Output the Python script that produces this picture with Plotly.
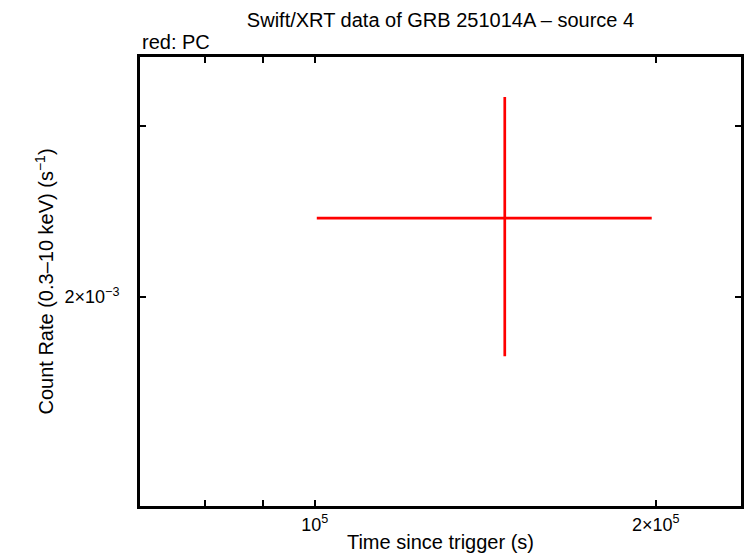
import math
import plotly.graph_objects as go

# Data
time = [147150]
time_err_minus = [46750]
time_err_plus = [51250]
rate = [2.411e-3]
rate_err_minus = [0.673e-3]
rate_err_plus = [0.803e-3]

x_tickvals = [8e4, 9e4, 1e5, 2e5]
x_ticktext = ["", "", "10<sup>5</sup>", "2×10<sup>5</sup>"]
y_tickvals = [2e-3, 3e-3]
y_ticktext = ["2×10<sup>−3</sup>", ""]

FONT = "Liberation Sans, Arial, Helvetica, sans-serif"

fig = go.Figure()
fig.add_trace(go.Scatter(
    x=time, y=rate, mode="markers",
    marker=dict(size=1, color="red"),
    error_x=dict(type="data", symmetric=False, array=time_err_plus,
                 arrayminus=time_err_minus, color="red", thickness=2.7, width=0),
    error_y=dict(type="data", symmetric=False, array=rate_err_plus,
                 arrayminus=rate_err_minus, color="red", thickness=2.7, width=0),
    showlegend=False,
))

fig.update_layout(
    width=746, height=558,
    margin=dict(l=140, r=2, t=57, b=52),
    paper_bgcolor="white", plot_bgcolor="white",
    font=dict(family=FONT, size=17, color="black"),
    title=dict(text="Swift/XRT data of GRB 251014A – source 4", x=0.5, xref="paper",
               y=1 - 20 / 558, yanchor="middle", font=dict(size=20)),
    xaxis=dict(type="log", range=[math.log10(70080), math.log10(237900)],
               tickmode="array", tickvals=x_tickvals, ticktext=x_ticktext,
               ticks="inside", ticklen=6, tickwidth=2, tickcolor="black",
               showline=True, linewidth=3, linecolor="black", mirror="ticks",
               showgrid=False, zeroline=False,
               title=dict(text="Time since trigger (s)", standoff=2),
               tickfont=dict(size=18)),
    yaxis=dict(type="log", range=[math.log10(1.218e-3), math.log10(3.534e-3)],
               tickmode="array", tickvals=y_tickvals, ticktext=y_ticktext,
               ticks="inside", ticklen=6, tickwidth=2, tickcolor="black",
               showline=True, linewidth=3, linecolor="black", mirror="ticks",
               showgrid=False, zeroline=False, ticklabelstandoff=14,
               title=dict(text="Count Rate (0.3–10 keV) (s<sup>−1</sup>)", standoff=6),
               tickfont=dict(size=18)),
    annotations=[dict(text="red: PC", xref="paper", yref="paper", x=0, y=1,
                      xanchor="left", yanchor="bottom", yshift=2, showarrow=False,
                      font=dict(size=20))],
)

fig.write_html("out.html", config={"displayModeBar": False},
               post_script="document.body.style.margin='0';document.body.style.padding='0';"
                           "window.dispatchEvent(new Event('resize'));")
